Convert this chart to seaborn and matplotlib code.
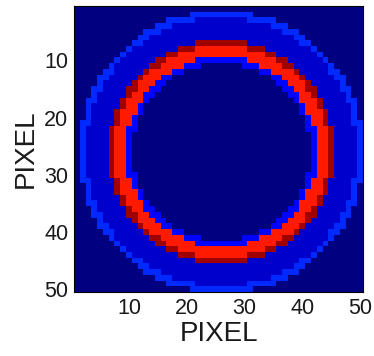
import numpy as np
import pandas as pd
import matplotlib
matplotlib.use("Agg")
import matplotlib.pyplot as plt
import seaborn as sns

# Image size (pixels) and ring center (0-based pixel index)
n_pix = 50
center_x = 25.0
center_y = 25.0

# Radial profile: outer radius of each band and its level
ring_outer_radius = [15.5, 16.5, 18.5, 19.5, 23.5, 24.7, 99.0]
ring_level        = [0.00, 0.13, 0.88, 0.97, 0.07, 0.165, 0.00]

tick_values = [10, 20, 30, 40, 50]
x_label = "PIXEL"
y_label = "PIXEL"

# Build the image from the radial profile
yy, xx = np.mgrid[0:n_pix, 0:n_pix]
dist = np.hypot(xx - center_x, yy - center_y)
idx = np.searchsorted(ring_outer_radius, dist, side="left")
Z = np.array(ring_level)[np.clip(idx, 0, len(ring_level) - 1)]
df = pd.DataFrame(Z, index=np.arange(1, n_pix + 1), columns=np.arange(1, n_pix + 1))

sns.set_style("white")
plt.rcParams["font.family"] = ["Liberation Sans", "DejaVu Sans"]
text_color = "#1a1a1a"

fig = plt.figure(figsize=(3.74, 3.56), dpi=100)
ax = fig.add_axes([74 / 374, 1 - 292 / 356, 289 / 374, 286 / 356])
sns.heatmap(df, cmap="jet", vmin=0, vmax=1, cbar=False, ax=ax,
            xticklabels=False, yticklabels=False)

ax.set_xticks([t - 0.5 for t in tick_values])
ax.set_xticklabels([str(t) for t in tick_values], fontsize=15.5, rotation=0, color=text_color)
ax.set_yticks([t - 0.5 for t in tick_values])
ax.set_yticklabels([str(t) for t in tick_values], fontsize=15.5, rotation=0, color=text_color)
ax.tick_params(direction="in", length=3, color="black", pad=4)
ax.set_xlabel(x_label, fontsize=20, labelpad=2, color=text_color)
ax.set_ylabel(y_label, fontsize=20, labelpad=4, color=text_color)

for s in ax.spines.values():
    s.set_visible(True)
    s.set_color("black")
    s.set_linewidth(0.8)

fig.savefig("out.png", dpi=100)
